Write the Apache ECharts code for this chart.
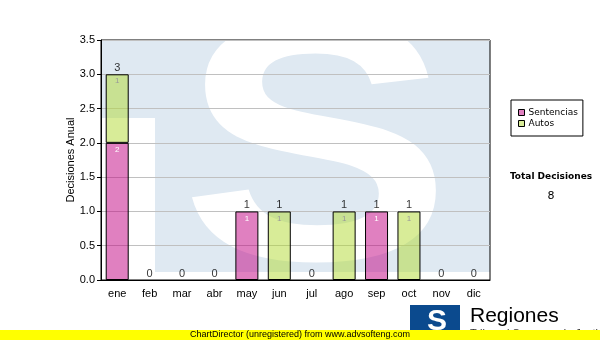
<!DOCTYPE html>
<html>
<head>
<meta charset="utf-8">
<script src="https://cdn.jsdelivr.net/npm/echarts@6/dist/echarts.min.js"></script>
<style>html,body{margin:0;padding:0;background:#fff;}#c{width:600px;height:340px;}</style>
</head>
<body>
<div id="c"></div>
<script>
const months = ['ene','feb','mar','abr','may','jun','jul','ago','sep','oct','nov','dic'];
const sentencias = [2,0,0,0,1,0,0,0,1,0,0,0];
const autos = [1,0,0,0,0,1,0,1,0,1,0,0];
const yTicks = { min: 0, max: 3.5, interval: 0.5 };

const totals = months.map((m,i)=>sentencias[i]+autos[i]);
const grandTotal = totals.reduce((a,b)=>a+b,0);
const nz = v => v === 0 ? '-' : v;

const chart = echarts.init(document.getElementById('c'), null, {renderer:'canvas'});
const AX = '"Liberation Sans", Arial, sans-serif';
chart.setOption({
  animation: false,
  backgroundColor: '#ffffff',
  grid: { left: 101, right: 110, top: 40, bottom: 60, show: true, borderColor: '#000', borderWidth: 1, backgroundColor: 'transparent' },
  legend: {
    orient: 'vertical', left: 511, top: 100,
    padding: [8, 5, 8, 7], itemGap: 2, itemWidth: 6, itemHeight: 6,
    borderColor: '#000', borderWidth: 1, backgroundColor: '#fff',
    textStyle: { fontFamily: '"DejaVu Sans", Verdana, sans-serif', fontSize: 9, color: '#000', padding: [0,0,0,-1] },
    data: [
      { name: 'Sentencias', icon: 'rect', itemStyle: { color: '#e080c0', borderColor: '#000', borderWidth: 1 } },
      { name: 'Autos', icon: 'rect', itemStyle: { color: '#d8ec98', borderColor: '#000', borderWidth: 1 } }
    ]
  },
  xAxis: {
    type: 'category', data: months,
    axisLine: { lineStyle: { color: '#000', width: 1 } },
    axisTick: { alignWithLabel: true, length: 4, lineStyle: { color: '#000' } },
    axisLabel: { fontFamily: AX, fontSize: 11, color: '#000', margin: 8 },
    splitLine: { show: false }
  },
  yAxis: {
    type: 'value', min: yTicks.min, max: yTicks.max, interval: yTicks.interval,
    name: 'Decisiones Anual', nameLocation: 'middle', nameGap: 25, nameMoveOverlap: false,
    nameTextStyle: { fontFamily: AX, fontSize: 11, color: '#000' },
    axisLine: { show: true, lineStyle: { color: '#000' } },
    axisTick: { show: true, length: 4, lineStyle: { color: '#000' } },
    axisLabel: { fontFamily: AX, fontSize: 11, color: '#000', margin: 6, formatter: v => v.toFixed(1) },
    splitLine: { lineStyle: { color: '#c0c0c0', width: 1 } }
  },
  series: [
    {
      name: 'Sentencias', type: 'bar', stack: 't', barWidth: 23,
      data: sentencias.map(nz),
      itemStyle: { color: 'rgba(193,1,129,0.5)', borderColor: '#000', borderWidth: 1 },
      label: { show: true, position: 'insideTop', distance: 3, fontFamily: AX, fontSize: 8, color: '#ffffff' }
    },
    {
      name: 'Autos', type: 'bar', stack: 't', barWidth: 23,
      data: autos.map(nz),
      itemStyle: { color: 'rgba(177,217,49,0.5)', borderColor: '#000', borderWidth: 1 },
      label: { show: true, position: 'insideTop', distance: 3, fontFamily: AX, fontSize: 8, color: '#999999' }
    },
    {
      name: 'Total', type: 'scatter', symbolSize: 0.01, data: totals, z: 5,
      label: { show: true, position: 'top', distance: 1, fontFamily: AX, fontSize: 11, color: '#000', formatter: p => String(p.value) },
      silent: true
    }
  ],
  graphic: [
    { type: 'rect', z: -10, shape: { x: 101, y: 40, width: 389, height: 232 }, style: { fill: '#dfe9f2' } },
    { type: 'rect', z: -9, shape: { x: 101, y: 118, width: 54, height: 162 }, style: { fill: '#ffffff' } },
    { type: 'text', z: -8, x: 316, y: 164, scaleX: 1.18, style: { text: 'S', x: 0, y: 0, align: 'center', verticalAlign: 'middle', font: 'bold 345px "Liberation Sans", Arial, sans-serif', fill: '#ffffff' } },
    { type: 'rect', z: -7, shape: { x: 101, y: 272, width: 389, height: 8 }, style: { fill: '#ffffff' } },
    { type: 'rect', z: -7, shape: { x: 101, y: 20, width: 389, height: 20 }, style: { fill: '#ffffff' } },
    { type: 'text', z: 10, style: { text: 'Total Decisiones', x: 551, y: 177, align: 'center', verticalAlign: 'middle', font: 'bold 9px "DejaVu Sans", Verdana, sans-serif', fill: '#000' } },
    { type: 'text', z: 10, style: { text: String(grandTotal), x: 551, y: 196, align: 'center', verticalAlign: 'middle', font: '11px "DejaVu Sans", Verdana, sans-serif', fill: '#000' } },
    { type: 'rect', z: 10, shape: { x: 410, y: 305, width: 50, height: 30 }, style: { fill: '#0b4a8e' } },
    { type: 'text', z: 11, style: { text: 'S', x: 437, y: 322, align: 'center', verticalAlign: 'middle', font: 'bold 30px "Liberation Sans", Arial, sans-serif', fill: '#ffffff' } },
    { type: 'text', z: 10, style: { text: 'Regiones', x: 470, y: 316, align: 'left', verticalAlign: 'middle', font: '21px "Liberation Sans", Arial, sans-serif', fill: '#000' } },
    { type: 'text', z: 10, style: { text: 'Tribunal Supremo de Justicia', x: 470, y: 334, align: 'left', verticalAlign: 'middle', font: '11px "Liberation Sans", Arial, sans-serif', fill: '#333' } },
    { type: 'rect', z: 20, shape: { x: 0, y: 330, width: 600, height: 10 }, style: { fill: '#ffff00' } },
    { type: 'text', z: 21, style: { text: 'ChartDirector (unregistered) from www.advsofteng.com', x: 190, y: 335, align: 'left', verticalAlign: 'middle', font: '9px "Liberation Sans", Arial, sans-serif', fill: '#000' } }
  ]
});
</script>
</body>
</html>
